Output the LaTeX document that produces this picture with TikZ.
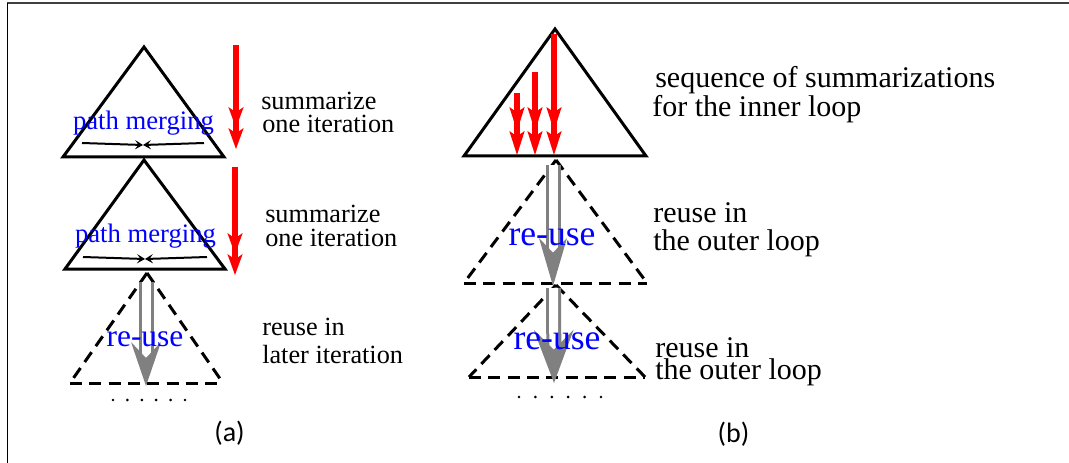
\documentclass[tikz,border=0pt]{standalone}
\usepackage{fontspec}
\setmainfont{Liberation Serif}
\newfontfamily\capfont{Carlito}
\usetikzlibrary{arrows.meta}
\begin{document}
\begin{tikzpicture}[x=0.75pt,y=-0.75pt,
  tri/.style={line width=2.25pt, line join=miter},
  dtri/.style={line width=2.25pt, dash pattern=on 9pt off 5.5pt},
  redarr/.style={draw=red, line width=4.5pt,
    -{Stealth[length=#1, width=11.5pt, inset=4pt, line width=0pt, sep=0pt]
      Stealth[length=#1, width=11.5pt, inset=4pt, line width=0pt]}},
  redarr/.default=15.75pt,
  grayarr/.style args={#1/#2/#3}{draw=gray, line width=2.25pt, double=white,
    double distance=6.75pt,
    -{Stealth[length=#1, width=#2, inset=#3, line width=0pt]}},
  mergearr/.style={line width=1.5pt, -{Stealth[length=6pt, width=7pt, inset=2.5pt, line width=0pt]}},
  lbl/.style={inner sep=0pt, anchor=base west, font=\fontsize{19.7pt}{23pt}\selectfont},
  lblb/.style={inner sep=0pt, anchor=base west, font=\fontsize{22.5pt}{26pt}\selectfont},
  pmtext/.style={inner sep=0pt, anchor=base, text=blue, font=\fontsize{20pt}{24pt}\selectfont},
  rutext/.style={inner sep=0pt, anchor=base, text=blue, font=\fontsize{#1}{#1}\selectfont},
  captext/.style={inner sep=0pt, font=\capfont\fontsize{21pt}{24pt}\selectfont},
  dot/.style={fill=black}
]
\useasboundingbox (0,0) rectangle (1069,463);
% frame
\draw[line width=1.5pt, black!75] (7,3.5) -- (1069,3.5);
\draw[line width=1.1pt] (7.5,3) -- (7.5,463);

% ---------- panel (a) ----------
% triangle 1
\coordinate (t1a) at (144,47);
\coordinate (t1l) at (63,157);
\coordinate (t1r) at (224,157);
\draw[tri] (t1a) -- (t1l) -- (t1r) -- cycle;
\coordinate (m1l) at (82,143);
\coordinate (m1r) at (204,143);
\coordinate (m1c) at (143,145);
\draw[mergearr] (m1l) -- (m1c);
\draw[mergearr] (m1r) -- (m1c);
\node[pmtext] (pm1) at (143.5,130) {path merging};

% triangle 2
\coordinate (t2a) at (144,160);
\coordinate (t2l) at (65,269);
\coordinate (t2r) at (225,269);
\draw[tri] (t2a) -- (t2l) -- (t2r) -- cycle;
\coordinate (m2l) at (83,257);
\coordinate (m2r) at (207,257);
\coordinate (m2c) at (145,259);
\draw[mergearr] (m2l) -- (m2c);
\draw[mergearr] (m2r) -- (m2c);
\node[pmtext] (pm2) at (145.5,242) {path merging};

% red arrows
\coordinate (ra1s) at (236,45);
\coordinate (ra1e) at (236,149);
\draw[redarr] (ra1s) -- (ra1e);
\coordinate (ra2s) at (235,167);
\coordinate (ra2e) at (235,275);
\draw[redarr] (ra2s) -- (ra2e);

% dashed triangle
\coordinate (t3a) at (147,273);
\coordinate (t3l) at (70,383);
\coordinate (t3r) at (223,383);
\draw[dtri] (t3a) -- (t3l);
\draw[dtri] (t3a) -- (t3r);
\draw[dtri] (t3l) -- (t3r);
\coordinate (ga1s) at (146,282);
\coordinate (ga1e) at (146,386);
\draw[grayarr=33pt/22.5pt/12pt] (ga1s) -- (ga1e);
\node[rutext=23.6pt] (rua) at (145,346) {re-use};

\foreach \i in {0,...,5} \fill[dot] (113+14.4*\i,400) circle (1.1pt);

\node[lbl] (s1a) at (261,110) {summarize};
\node[lbl] (s1b) at (262,133) {one iteration};
\node[lbl] (s2a) at (265,223) {summarize};
\node[lbl] (s2b) at (265,246) {one iteration};
\node[lbl] (r1a) at (262,335) {reuse in};
\node[lbl] (r1b) at (262,363) {later iteration};

\node[captext] (capa) at (229.5,433) {(a)};

% ---------- panel (b) ----------
\coordinate (b1a) at (555,29);
\coordinate (b1l) at (464,156);
\coordinate (b1r) at (646,156);
\draw[tri] (b1a) -- (b1l) -- (b1r) -- cycle;
\coordinate (rb1s) at (517,93);
\coordinate (rb1e) at (517,155);
\coordinate (rb2s) at (535,72);
\coordinate (rb2e) at (535,155);
\coordinate (rb3s) at (554,34);
\coordinate (rb3e) at (554,155);
\draw[redarr=18pt] (rb1s) -- (rb1e);
\draw[redarr=18pt] (rb2s) -- (rb2e);
\draw[redarr=18pt] (rb3s) -- (rb3e);

\coordinate (b2a) at (556,160);
\coordinate (b2l) at (464,283);
\coordinate (b2r) at (647,283);
\draw[dtri] (b2a) -- (b2l);
\draw[dtri] (b2a) -- (b2r);
\draw[dtri] (b2l) -- (b2r);
\coordinate (gb1s) at (553,165);
\coordinate (gb1e) at (553,286);
\draw[grayarr=36pt/21pt/11pt] (gb1s) -- (gb1e);
\node[rutext=26.7pt] (rub1) at (552,245) {re-use};

\coordinate (b3a) at (556,285);
\coordinate (b3l) at (469,377);
\coordinate (b3r) at (645,377);
\draw[dtri] (b3a) -- (b3l);
\draw[dtri] (b3a) -- (b3r);
\draw[dtri] (b3l) -- (b3r);
\coordinate (gb2s) at (553.5,288);
\coordinate (gb2e) at (554,383);
\draw[grayarr=40pt/30pt/15pt] (gb2s) -- (gb2e);
\node[rutext=26.7pt] (rub2) at (557,349) {re-use};

\foreach \i in {0,...,5} \fill[dot] (519+16.4*\i,397) circle (1.1pt);

\node[lblb] (q1) at (655,88) {sequence of summarizations};
\node[lblb] (q2) at (652,117) {for the inner loop};
\node[lblb] (o1a) at (653,223) {reuse in};
\node[lblb] (o1b) at (653,250) {the outer loop};
\node[lblb] (o2a) at (655,357) {reuse in};
\node[lblb] (o2b) at (655,379) {the outer loop};

\node[captext] (capb) at (733.5,434.5) {(b)};
\end{tikzpicture}
\end{document}
